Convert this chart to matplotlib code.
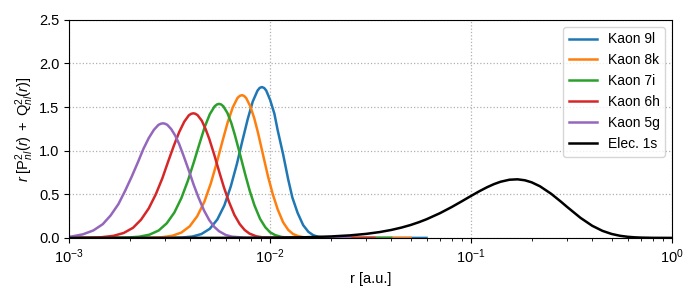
import numpy as np
import matplotlib.pyplot as plt

plt.rcParams['font.family'] = ['Liberation Sans', 'DejaVu Sans']
plt.rcParams['mathtext.fontset'] = 'custom'
plt.rcParams['mathtext.rm'] = 'Liberation Sans'
plt.rcParams['mathtext.it'] = 'Liberation Sans:italic'
plt.rcParams['font.size'] = 10.5

# radial densities (r in a.u.)
r_9l = [0.0008, 0.00182, 0.00273, 0.00319, 0.00364, 0.00410, 0.00455, 0.00501, 0.00546, 0.00592,
        0.00637, 0.00683, 0.00728, 0.00774, 0.00819, 0.00865, 0.00887, 0.00910, 0.00933, 0.00956,
        0.0100, 0.0105, 0.0109, 0.0116, 0.0123, 0.0129, 0.0137, 0.0146, 0.0155, 0.0164, 0.0173,
        0.0187, 0.0200, 0.0237, 0.06]
y_9l = [0.0, 0.0, 0.0001, 0.0009, 0.0043, 0.0154, 0.0441, 0.1043, 0.2107, 0.3728,
        0.5894, 0.8456, 1.1146, 1.3638, 1.5625, 1.6881, 1.7196, 1.73, 1.7199, 1.6907,
        1.5825, 1.4241, 1.2364, 0.9603, 0.6704, 0.4633, 0.2870, 0.1463, 0.0693, 0.0307, 0.0128,
        0.0031, 0.0007, 0.0, 0.0]

r_8k = [0.0008, 0.00145, 0.00217, 0.00253, 0.00290, 0.00326, 0.00362, 0.00398, 0.00434, 0.00471,
        0.00507, 0.00543, 0.00579, 0.00615, 0.00652, 0.00688, 0.00706, 0.00724, 0.00742, 0.00760,
        0.00796, 0.00833, 0.00869, 0.00919, 0.00977, 0.0103, 0.0109, 0.0116, 0.0123, 0.0130,
        0.0138, 0.0148, 0.0159, 0.0188, 0.05]
y_8k = [0.0, 0.0, 0.0003, 0.0018, 0.0076, 0.0240, 0.0614, 0.1328, 0.2492, 0.4154,
        0.6258, 0.8643, 1.1067, 1.3256, 1.4972, 1.6044, 1.6282, 1.637, 1.6285, 1.6036,
        1.5116, 1.3754, 1.2120, 0.9668, 0.7008, 0.5037, 0.3282, 0.1796, 0.0920, 0.0444,
        0.0203, 0.0058, 0.0015, 0.0, 0.0]

r_7i = [0.0008, 0.00111, 0.00167, 0.00195, 0.00223, 0.00251, 0.00279, 0.00306, 0.00334, 0.00362,
        0.00390, 0.00418, 0.00446, 0.00473, 0.00501, 0.00529, 0.00543, 0.00557, 0.00571, 0.00585,
        0.00613, 0.00641, 0.00668, 0.00707, 0.00752, 0.00791, 0.00836, 0.00891, 0.00947, 0.0100,
        0.0106, 0.0114, 0.0123, 0.0145, 0.04]
y_7i = [0.0, 0.0, 0.0008, 0.0038, 0.0134, 0.0370, 0.0848, 0.1673, 0.2916, 0.4576,
        0.6569, 0.8735, 1.0862, 1.2739, 1.4182, 1.5075, 1.5297, 1.537, 1.5299, 1.5093,
        1.4326, 1.3181, 1.1789, 0.9657, 0.7271, 0.5432, 0.3723, 0.2187, 0.1212, 0.0637,
        0.0320, 0.0105, 0.0032, 0.0001, 0.0]

r_6h = [0.00083, 0.00125, 0.00145, 0.00166, 0.00187, 0.00208, 0.00228, 0.00249, 0.00270, 0.00291,
        0.00311, 0.00332, 0.00353, 0.00374, 0.00394, 0.00405, 0.00415, 0.00425, 0.00436, 0.00457,
        0.00477, 0.00498, 0.00527, 0.00560, 0.00589, 0.00623, 0.00664, 0.00706, 0.00747, 0.00789,
        0.00851, 0.00913, 0.0108, 0.033]
y_6h = [0.0, 0.0020, 0.0079, 0.0234, 0.0565, 0.1160, 0.2091, 0.3383, 0.5000, 0.6841,
        0.8757, 1.0578, 1.2144, 1.3328, 1.4053, 1.4231, 1.429, 1.4233, 1.4067, 1.3444,
        1.2510, 1.1356, 0.9553, 0.7469, 0.5802, 0.4181, 0.2637, 0.1581, 0.0906, 0.0498,
        0.0190, 0.0068, 0.0003, 0.0]

r_5g = [0.000586, 0.000879, 0.00103, 0.00117, 0.00132, 0.00147, 0.00161, 0.00176, 0.00190, 0.00205,
        0.00220, 0.00234, 0.00249, 0.00264, 0.00278, 0.00286, 0.00293, 0.00300, 0.00308, 0.00322,
        0.00337, 0.00352, 0.00372, 0.00396, 0.00416, 0.00440, 0.00469, 0.00498, 0.00527, 0.00557,
        0.00601, 0.00645, 0.00762, 0.025]
y_5g = [0.0002, 0.0051, 0.0162, 0.0405, 0.0854, 0.1570, 0.2584, 0.3883, 0.5403, 0.7044,
        0.8682, 1.0187, 1.1449, 1.2387, 1.2955, 1.3094, 1.314, 1.3096, 1.2967, 1.2479,
        1.1741, 1.0818, 0.9345, 0.7590, 0.6128, 0.4645, 0.3144, 0.2039, 0.1273, 0.0768,
        0.0340, 0.0142, 0.0011, 0.0]

r_1s = [0.001, 0.005, 0.0075, 0.01, 0.015, 0.02, 0.025, 0.03, 0.035, 0.04, 0.045, 0.05, 0.055,
        0.06, 0.07, 0.08, 0.09, 0.1, 0.11, 0.12, 0.13, 0.14, 0.155, 0.17, 0.185, 0.2, 0.22,
        0.25, 0.28, 0.3, 0.35, 0.4, 0.45, 0.5, 0.55, 0.6, 0.65, 0.7, 0.8, 1.0]
y_1s = [0.0, 0.0003, 0.0011, 0.0024, 0.0075, 0.0163, 0.0291, 0.0459, 0.0666, 0.0908, 0.1182,
        0.148, 0.1803, 0.2139, 0.2838, 0.3537, 0.4207, 0.4820, 0.5359, 0.5811, 0.6171, 0.6438,
        0.6670, 0.6718, 0.6608, 0.6373, 0.5918, 0.5061, 0.4144, 0.3556, 0.2296, 0.1393,
        0.0807, 0.0450, 0.0243, 0.0129, 0.0066, 0.0034, 0.0008, 0.0]

series = [
    ("Kaon 9l", r_9l, y_9l, "tab:blue"),
    ("Kaon 8k", r_8k, y_8k, "tab:orange"),
    ("Kaon 7i", r_7i, y_7i, "tab:green"),
    ("Kaon 6h", r_6h, y_6h, "tab:red"),
    ("Kaon 5g", r_5g, y_5g, "tab:purple"),
    ("Elec. 1s", r_1s, y_1s, "black"),
]

fig = plt.figure(figsize=(6.98, 2.97), dpi=100)
ax = fig.add_axes([0.099, 0.199, 0.864, 0.734])

for label, r, y, c in series:
    ax.plot(r, y, color=c, lw=1.8, label=label)

ax.set_xscale("log")
ax.set_xlim(1e-3, 1)
ax.set_ylim(0, 2.5)
ax.set_yticks(np.arange(0, 2.51, 0.5))
ax.grid(True, which="major", ls=":", color="#b0b0b0", lw=0.9)
ax.set_xlabel("r [a.u.]")
ax.set_ylabel(r"$r\ [\mathrm{P}^2_{nl}(r)\;+\;\mathrm{Q}^2_{nl}(r)]$", labelpad=2)
ax.legend(loc="upper right", fontsize=10)

fig.savefig("out.png", dpi=100)
